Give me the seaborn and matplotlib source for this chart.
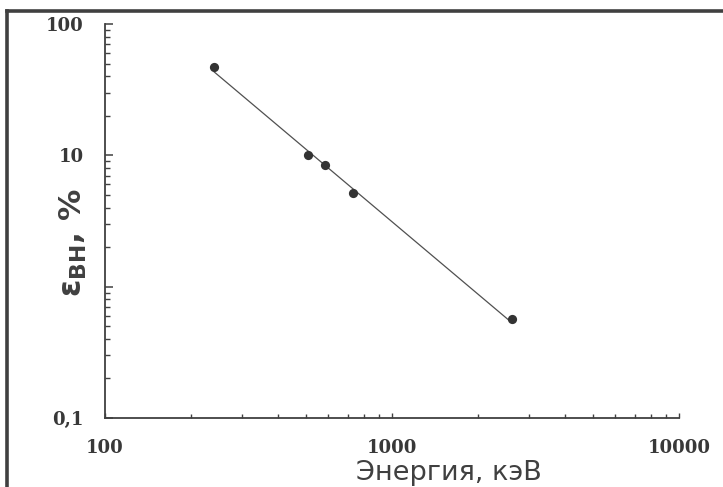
import numpy as np
import pandas as pd
import matplotlib
matplotlib.use("Agg")
import matplotlib.pyplot as plt
from matplotlib.lines import Line2D
from matplotlib.ticker import FixedLocator, FixedFormatter, LogLocator, NullFormatter
import seaborn as sns

# Gamma-line energies (keV) and intrinsic efficiency (%)
energy_kev = [240, 511, 586, 730, 2614]
efficiency_pct = [47.0, 10.05, 8.4, 5.15, 0.563]

x_ticks = [100, 1000, 10000]
x_tick_labels = ["100", "1000", "10000"]
y_ticks = [0.1, 1, 10, 100]
y_tick_labels = ["0,1", "", "10", "100"]

df = pd.DataFrame({"E": energy_kev, "eff": efficiency_pct})

# power-law fit in log-log space
b, a = np.polyfit(np.log10(df["E"]), np.log10(df["eff"]), 1)
fit_x = np.array([df["E"].min(), df["E"].max()])
fit = pd.DataFrame({"E": fit_x, "eff": 10 ** (a + b * np.log10(fit_x))})

sns.set_style("white")
ink = "#404040"

fig = plt.figure(figsize=(7.23, 4.87), dpi=100)
ax = fig.add_axes([105 / 723, 1 - 418 / 487, (679 - 105) / 723, (418 - 24) / 487])

sns.lineplot(data=fit, x="E", y="eff", ax=ax, color="#505050", linewidth=0.9)
sns.scatterplot(data=df, x="E", y="eff", ax=ax, color="#333333", s=44,
                edgecolor="#333333", linewidth=0, zorder=3)

ax.set_xscale("log")
ax.set_yscale("log")
ax.set_xlim(100, 10000)
ax.set_ylim(0.1, 100)

ax.xaxis.set_major_locator(FixedLocator(x_ticks))
ax.xaxis.set_major_formatter(FixedFormatter(x_tick_labels))
ax.yaxis.set_major_locator(FixedLocator(y_ticks))
ax.yaxis.set_major_formatter(FixedFormatter(y_tick_labels))
for axis in (ax.xaxis, ax.yaxis):
    axis.set_minor_locator(LogLocator(base=10, subs=np.arange(2, 10)))
    axis.set_minor_formatter(NullFormatter())

ax.tick_params(which="both", bottom=True, left=True, top=False, right=False)
ax.tick_params(axis="y", which="major", direction="in", length=5.8, width=1.1,
               color=ink, pad=15.5, labelcolor="#383838")
ax.tick_params(axis="y", which="minor", direction="in", length=3.6, width=1.0, color=ink)
ax.tick_params(axis="x", which="major", direction="in", length=3.6, width=1.0,
               color=ink, pad=15, labelcolor="#383838")
ax.tick_params(axis="x", which="minor", direction="in", length=2.9, width=1.0, color=ink)
for lab in ax.get_xticklabels() + ax.get_yticklabels():
    lab.set_fontfamily("DejaVu Serif")
    lab.set_fontweight("bold")
    lab.set_fontsize(13)

for side in ("top", "right"):
    ax.spines[side].set_visible(False)
for side in ("left", "bottom"):
    ax.spines[side].set_color(ink)
    ax.spines[side].set_linewidth(1.3)

ax.set_xlabel("Энергия, кэВ", family="DejaVu Sans", fontsize=19.5, color=ink)
ax.xaxis.label.set_va("baseline")
ax.xaxis.set_label_coords((449 - 105) / (679 - 105), -(480 - 418) / (418 - 24))
ax.set_ylabel("ε$_{\\mathbf{ВН}}$, %", fontsize=22.5, fontweight="bold", color=ink)
ax.yaxis.label.set_va("baseline")
ax.yaxis.set_label_coords(-(105 - 82) / (679 - 105), (418 - 243) / (418 - 24))

# outer frame on the left and top edges
fig.add_artist(Line2D([7.3 / 723, 7.3 / 723], [0, 1 - 10.5 / 487],
                      transform=fig.transFigure, color=ink, linewidth=2.6,
                      solid_capstyle="projecting"))
fig.add_artist(Line2D([7.3 / 723, 1], [1 - 10.5 / 487, 1 - 10.5 / 487],
                      transform=fig.transFigure, color=ink, linewidth=2.6,
                      solid_capstyle="projecting"))

fig.savefig("out.png", dpi=100)
